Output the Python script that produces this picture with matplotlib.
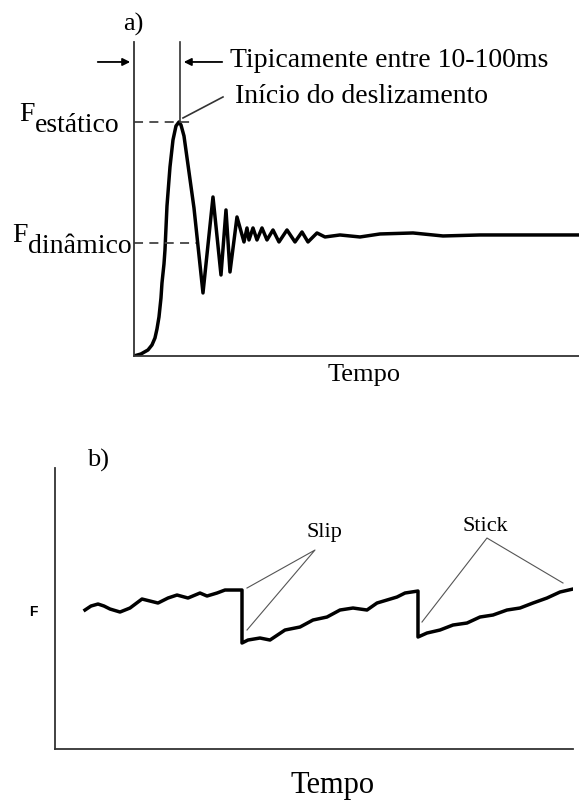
import matplotlib
matplotlib.use("Agg")
import matplotlib.pyplot as plt
import numpy as np

# a) force vs time at the start of sliding (arbitrary units read off the sketch)
t_a = [0, 7, 14, 18, 21, 23, 25, 27, 28, 30, 31, 33, 36, 39, 42, 45, 47, 50, 60, 69,
       79, 87, 92, 96, 103, 110, 113, 115, 119, 123, 128, 133, 139, 145, 153, 161, 168, 174,
       183, 191, 206, 226, 246, 279, 309, 346, 380, 445]
f_a = [0, 2, 6, 11, 18, 27, 39, 58, 73, 92, 106, 150, 189, 216, 230, 234, 231, 220, 148,
       63, 159, 81, 146, 84, 139, 114, 128, 116, 128, 116, 128, 116, 126, 114, 126, 114,
       124, 114, 123, 119, 121, 119, 122, 123, 120, 121, 121, 121]
f_static = 234
f_dynamic = 113

# b) stick-slip force trace
t_b = [30, 36, 43, 49, 55, 65, 75, 87, 95, 103, 113, 122, 133, 145, 152, 162, 170, 187, 187,
       193, 205, 215, 230, 245, 258, 272, 285, 298, 312, 322, 332, 342, 350, 363, 363, 372,
       385, 398, 412, 425, 438, 452, 465, 478, 492, 505, 518]
f_b = [139, 143, 145, 143, 140, 137, 141, 150, 148, 146, 151, 154, 151, 156, 153, 156, 159,
       159, 106, 109, 111, 109, 119, 122, 129, 132, 139, 141, 139, 146, 149, 152, 156, 158,
       112, 116, 119, 124, 126, 132, 134, 139, 141, 146, 151, 157, 160]

serif = "Liberation Serif"
fig = plt.figure(figsize=(5.79, 8.01), dpi=100)

# ---------------- panel a
ax = fig.add_axes([0.2314, 0.5556, 0.7686, 0.3920])
ax.plot(t_a, f_a, color="black", lw=2.5, solid_joinstyle="round")
ax.set_xlim(0, 445)
ax.set_ylim(0, 314)
for s in ["top", "right"]:
    ax.spines[s].set_visible(False)
for s in ["left", "bottom"]:
    ax.spines[s].set_color("#333333")
    ax.spines[s].set_linewidth(1.3)
ax.set_xticks([])
ax.set_yticks([])

dash = (0, (5, 3.5))
ax.plot([0, 58], [f_static, f_static], color="#444444", lw=1.3, linestyle=dash)
ax.plot([0, 62], [f_dynamic, f_dynamic], color="#444444", lw=1.3, linestyle=dash)
ax.plot([46, 46], [f_static, 314], color="#333333", lw=1.2, clip_on=False)

ax.annotate("", xy=(-1, 294), xytext=(-39, 294), annotation_clip=False,
            arrowprops=dict(arrowstyle="-|>", color="black", lw=1.3, mutation_scale=11))
ax.annotate("", xy=(47, 294), xytext=(91, 294), annotation_clip=False,
            arrowprops=dict(arrowstyle="-|>", color="black", lw=1.3, mutation_scale=11))
ax.plot([49, 89], [238, 259], color="#333333", lw=1.2, clip_on=False)

ax.text(-1, 332, "a)", family=serif, fontsize=19, ha="center", va="center")
ax.text(96, 289, "Tipicamente entre 10-100ms", family=serif, fontsize=20, va="baseline")
ax.text(101, 253, "Início do deslizamento", family=serif, fontsize=20, va="baseline")
ax.text(-99, 235, "F", family=serif, fontsize=20, ha="right", va="baseline")
ax.text(-99, 224, "estático", family=serif, fontsize=20, ha="left", va="baseline")
ax.text(-106, 114, "F", family=serif, fontsize=20, ha="right", va="baseline")
ax.text(-106, 103, "dinâmico", family=serif, fontsize=20, ha="left", va="baseline")
ax.text(230, -25, "Tempo", family=serif, fontsize=19, ha="center", va="baseline")

# ---------------- panel b
bx = fig.add_axes([0.0950, 0.0649, 0.8946, 0.3508])
bx.plot(t_b, f_b, color="black", lw=2.5, solid_joinstyle="round")
bx.set_xlim(0, 518)
bx.set_ylim(0, 281)
for s in ["top", "right"]:
    bx.spines[s].set_visible(False)
for s in ["left", "bottom"]:
    bx.spines[s].set_color("#333333")
    bx.spines[s].set_linewidth(1.3)
bx.set_xticks([])
bx.set_yticks([])

bx.plot([192, 260, 192], [161, 199, 119], color="#555555", lw=0.8, clip_on=False)
bx.plot([367, 432, 508], [127, 211, 166], color="#555555", lw=0.8, clip_on=False)
bx.text(252, 212, "Slip", family=serif, fontsize=16, va="baseline")
bx.text(408, 218, "Stick", family=serif, fontsize=16, va="baseline")
bx.text(43, 289, "b)", family=serif, fontsize=19, ha="center", va="center")
bx.text(-22, 137, "F", family="Liberation Sans", fontsize=10, fontweight="bold",
        ha="center", va="center")
bx.text(278, -44, "Tempo", family=serif, fontsize=22, ha="center", va="baseline")

fig.savefig("out.png", dpi=100)
